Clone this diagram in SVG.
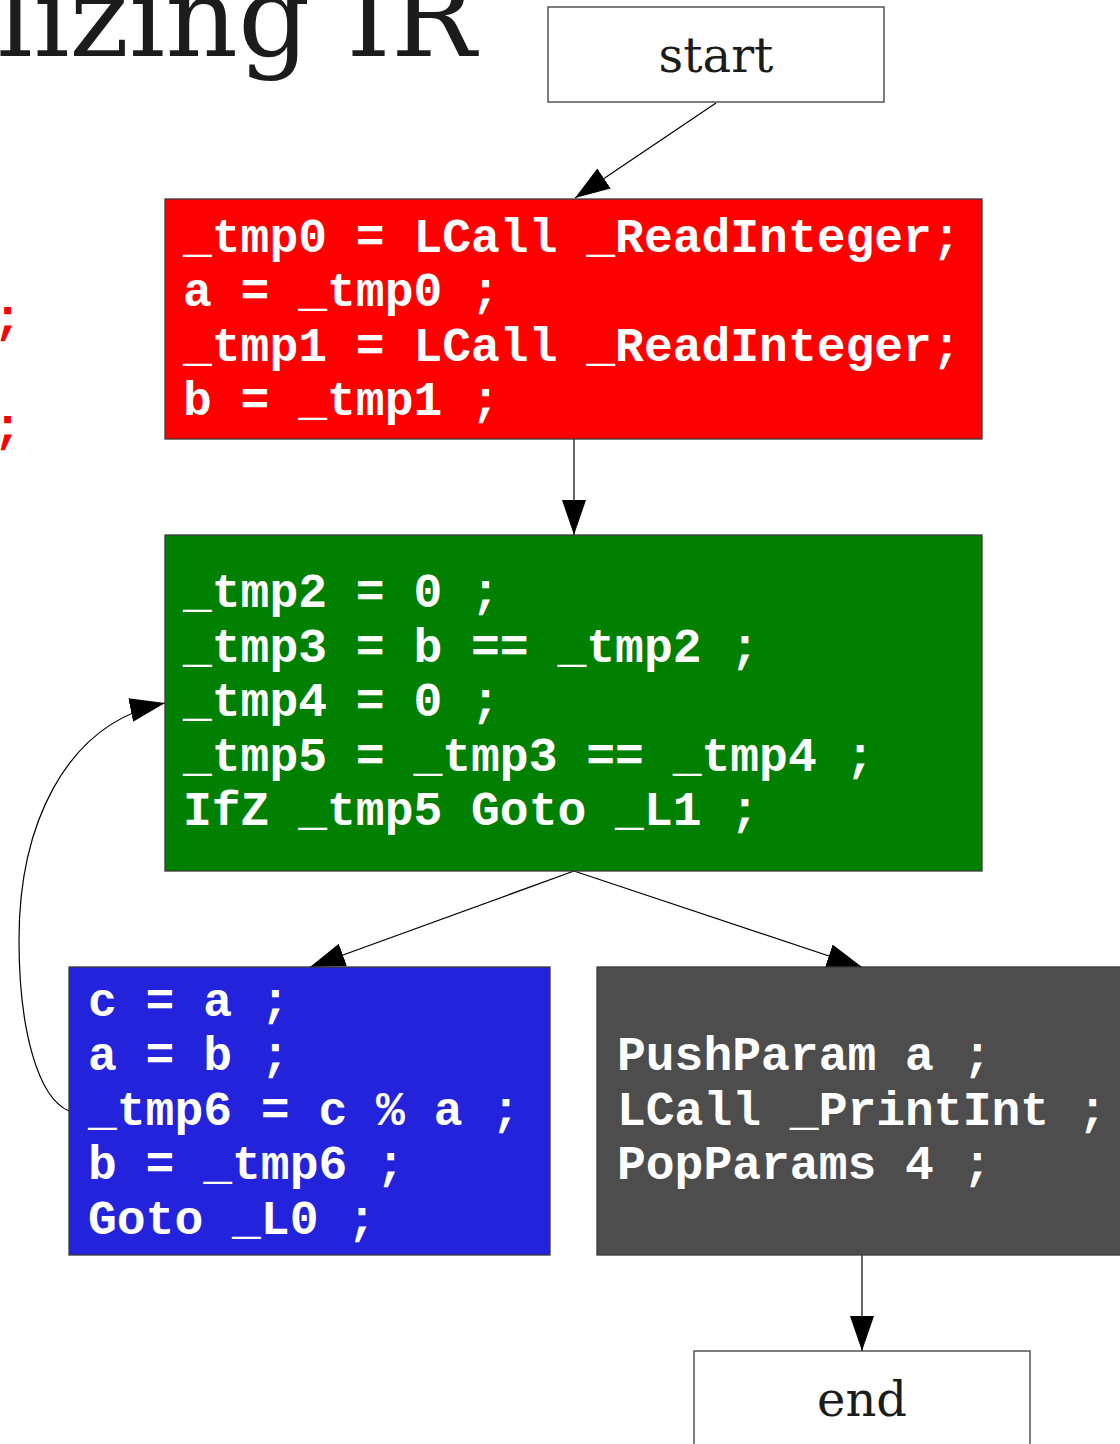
<svg xmlns="http://www.w3.org/2000/svg" width="1120" height="1444" viewBox="0 0 1120 1444">
<style>
.code{font-family:"Liberation Mono","Courier New",monospace;font-weight:bold;font-size:48px;fill:#ffffff}
.serif{font-family:"DejaVu Serif","Liberation Serif",serif;fill:#1c1c1c}
.box{stroke:#3a3a3a;stroke-width:1.3}
.edge{fill:none;stroke:#000;stroke-width:1.2}
</style>
<defs>
<marker id="arr" markerUnits="userSpaceOnUse" markerWidth="36" markerHeight="24" viewBox="0 0 36 24" refX="35" refY="12" orient="auto">
<path d="M0,0 L35,12 L0,24 z" fill="#000"/>
</marker>
</defs>
<rect width="1120" height="1444" fill="#fff"/>
<text class="serif" x="476" y="56" font-size="113" text-anchor="end">lizing IR</text>
<text x="-7" y="333" style="font-family:'Liberation Mono',monospace;font-weight:bold;font-size:48px;fill:#ff0000">;</text>
<text x="-7" y="442" style="font-family:'Liberation Mono',monospace;font-weight:bold;font-size:48px;fill:#ff0000">;</text>
<g id="edges">
<path class="edge" d="M716,103 L575,198" marker-end="url(#arr)"/>
<path class="edge" d="M574,439 L574,535" marker-end="url(#arr)"/>
<path class="edge" d="M574,871 L310,967" marker-end="url(#arr)"/>
<path class="edge" d="M574,871 L862,967" marker-end="url(#arr)"/>
<path class="edge" d="M862,1255 L862,1351" marker-end="url(#arr)"/>
<path class="edge" d="M69,1111 C38,1098 19,1030 19,940 C19,830 62,724 165,703" marker-end="url(#arr)"/>
</g>
<g id="start">
<rect class="box" x="548" y="7" width="336" height="95" fill="#fff"/>
<text class="serif" x="716" y="72" font-size="48" text-anchor="middle">start</text>
</g>
<g id="b0">
<rect class="box" x="165" y="199" width="817" height="240" fill="#ff0000"/>
<text class="code" x="183" y="252">_tmp0 = LCall _ReadInteger;</text>
<text class="code" x="183" y="306">a = _tmp0 ;</text>
<text class="code" x="183" y="361">_tmp1 = LCall _ReadInteger;</text>
<text class="code" x="183" y="415">b = _tmp1 ;</text>
</g>
<g id="b1">
<rect class="box" x="165" y="535" width="817" height="336" fill="#008000"/>
<text class="code" x="183" y="607">_tmp2 = 0 ;</text>
<text class="code" x="183" y="662">_tmp3 = b == _tmp2 ;</text>
<text class="code" x="183" y="716">_tmp4 = 0 ;</text>
<text class="code" x="183" y="771">_tmp5 = _tmp3 == _tmp4 ;</text>
<text class="code" x="183" y="825">IfZ _tmp5 Goto _L1 ;</text>
</g>
<g id="b2">
<rect class="box" x="69" y="967" width="481" height="288" fill="#2323db"/>
<text class="code" x="88" y="1016">c = a ;</text>
<text class="code" x="88" y="1070">a = b ;</text>
<text class="code" x="88" y="1125">_tmp6 = c % a ;</text>
<text class="code" x="88" y="1179">b = _tmp6 ;</text>
<text class="code" x="88" y="1234">Goto _L0 ;</text>
</g>
<g id="b3">
<rect class="box" x="597" y="967" width="530" height="288" fill="#4d4d4d"/>
<text class="code" x="617" y="1070">PushParam a ;</text>
<text class="code" x="617" y="1125">LCall _PrintInt ;</text>
<text class="code" x="617" y="1179">PopParams 4 ;</text>
</g>
<g id="end">
<rect class="box" x="694" y="1351" width="336" height="95" fill="#fff"/>
<text class="serif" x="862" y="1416" font-size="48" text-anchor="middle">end</text>
</g>
</svg>
